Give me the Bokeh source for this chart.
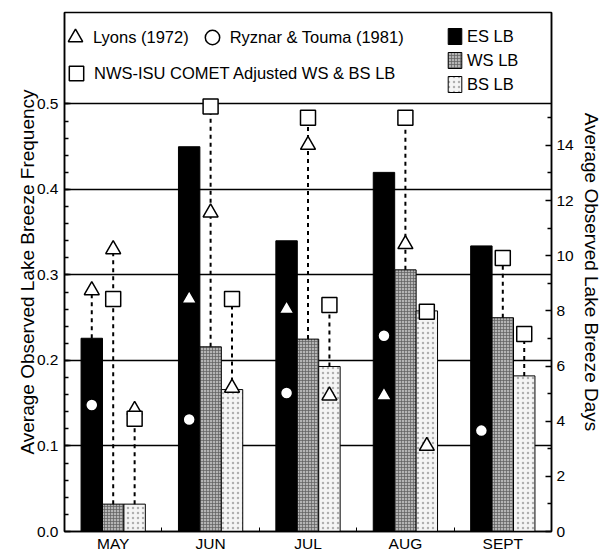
import numpy as np
from bokeh.plotting import figure
from bokeh.models import (Range1d, LinearAxis, FixedTicker, ColumnDataSource,
                          Legend, LegendItem, PrintfTickFormatter)
from bokeh.embed import file_html
from bokeh.resources import INLINE

# ---------------- data ----------------
months = ["MAY", "JUN", "JUL", "AUG", "SEPT"]
es_lb = [0.226, 0.450, 0.340, 0.420, 0.334]
ws_lb = [0.032, 0.216, 0.225, 0.306, 0.250]
bs_lb = [0.032, 0.166, 0.193, 0.258, 0.182]
lyons_es = [0.282, 0.272, 0.260, 0.159, None]
lyons_ws = [0.330, 0.373, 0.452, 0.336, None]
lyons_bs = [0.142, 0.168, 0.159, 0.100, None]
ryznar_es = [0.148, 0.131, 0.162, 0.229, 0.118]
comet_ws = [0.272, 0.497, 0.484, 0.484, 0.320]
comet_bs = [0.132, 0.272, 0.265, 0.257, 0.231]
freq_ticks = [0.0, 0.1, 0.2, 0.3, 0.4, 0.5]
day_ticks = [0, 2, 4, 6, 8, 10, 12, 14]
days_per_month = 31

FREQ_TOP = 0.607
BAR_W = 0.22
FONT = "Liberation Sans"

centers = np.arange(len(months)) + 0.5
es_x = centers - BAR_W
ws_x = centers
bs_x = centers + BAR_W

p = figure(width=604, height=554, x_range=Range1d(0, len(months)),
           y_range=Range1d(0, FREQ_TOP), output_backend="svg",
           toolbar_location=None, title=None,
           min_border_left=64, min_border_right=47, min_border_top=12,
           min_border_bottom=23)
p.background_fill_color = "white"
p.border_fill_color = "white"
p.outline_line_color = "black"
p.outline_line_width = 1.5

# ---- x axis ----
xa = p.xaxis[0]
xa.ticker = FixedTicker(ticks=list(centers), minor_ticks=[1, 2, 3, 4])
xa.major_label_overrides = {float(c): m for c, m in zip(centers, months)}
xa.major_tick_in = 0
xa.major_tick_out = 0
xa.minor_tick_in = 4
xa.minor_tick_out = 0
xa.major_label_standoff = 3
xa.major_label_text_font = FONT
xa.major_label_text_font_size = "15.5px"
xa.major_label_text_color = "black"
xa.axis_line_width = 1.5
xa.axis_line_color = "black"
xa.minor_tick_line_color = "black"

# ---- left axis ----
ya = p.yaxis[0]
ya.ticker = FixedTicker(ticks=freq_ticks,
                        minor_ticks=[round(0.02 * i, 2) for i in range(1, 26)])
ya.formatter = PrintfTickFormatter(format="%.1f")
ya.axis_label = "Average Observed Lake Breeze Frequency"
ya.axis_label_text_font = FONT
ya.axis_label_text_font_style = "normal"
ya.axis_label_text_font_size = "19px"
ya.axis_label_text_color = "black"
ya.axis_label_standoff = -4
ya.major_label_text_font = FONT
ya.major_label_text_font_size = "15.5px"
ya.major_label_text_color = "black"
ya.major_label_standoff = 6
ya.major_tick_in = 6
ya.major_tick_out = 0
ya.minor_tick_in = 4
ya.minor_tick_out = 0
ya.axis_line_width = 1.5
ya.major_tick_line_width = 1.5
ya.minor_tick_line_width = 1.5

# ---- right axis (days) ----
p.extra_y_ranges = {"days": Range1d(0, FREQ_TOP * days_per_month)}
ra = LinearAxis(y_range_name="days",
                ticker=FixedTicker(ticks=day_ticks, minor_ticks=list(range(1, 16, 2))),
                axis_label="Average Observed Lake Breeze Days")
ra.axis_label_text_font = FONT
ra.axis_label_text_font_style = "normal"
ra.axis_label_text_font_size = "19px"
ra.axis_label_text_color = "black"
ra.axis_label_standoff = 4
ra.major_label_text_font = FONT
ra.major_label_text_font_size = "15.5px"
ra.major_label_text_color = "black"
ra.major_label_standoff = 5
ra.major_tick_in = 6
ra.major_tick_out = 0
ra.minor_tick_in = 4
ra.minor_tick_out = 0
ra.axis_line_width = 1.5
ra.major_tick_line_width = 1.5
ra.minor_tick_line_width = 1.5
p.add_layout(ra, "right")

# ---- grid ----
p.xgrid.visible = False
p.ygrid.ticker = FixedTicker(ticks=freq_ticks[1:])
p.ygrid.grid_line_color = "black"
p.ygrid.grid_line_width = 1.4

# ---- bars ----
es_r = p.vbar(x=es_x, top=es_lb, width=BAR_W, fill_color="black",
              line_color="black", line_width=1)
ws_r = p.vbar(x=ws_x, top=ws_lb, width=BAR_W, fill_color="#b4b4b4",
              line_color="black", line_width=1,
              hatch_pattern="cross", hatch_scale=3, hatch_weight=0.7,
              hatch_color="#5e5e5e")
bs_r = p.vbar(x=bs_x, top=bs_lb, width=BAR_W, fill_color="#f5f5f5",
              line_color="black", line_width=1,
              hatch_pattern="dot", hatch_scale=5, hatch_weight=0.5,
              hatch_color="#b0b0b0")

# ---- dashed connectors from bar top to highest marker ----
def _f(v):
    return np.nan if v is None else v

seg_x, seg_y0, seg_y1 = [], [], []
for xs, bars, groups in [(es_x, es_lb, [lyons_es, ryznar_es]),
                         (ws_x, ws_lb, [lyons_ws, comet_ws]),
                         (bs_x, bs_lb, [lyons_bs, comet_bs])]:
    for i in range(len(months)):
        vals = [_f(g[i]) for g in groups]
        top = np.nanmax(vals)
        if top > bars[i] + 0.005:
            seg_x.append(xs[i]); seg_y0.append(bars[i]); seg_y1.append(top)
p.segment(x0=seg_x, y0=seg_y0, x1=seg_x, y1=seg_y1, line_color="black",
          line_width=2, line_dash="4 4")

# ---- markers ----
def _pts(xs, ys):
    px, py = [], []
    for x, y in zip(xs, ys):
        if y is not None:
            px.append(x); py.append(y)
    return px, py

tx, ty = [], []
for xs, ys in [(es_x, lyons_es), (ws_x, lyons_ws), (bs_x, lyons_bs)]:
    a, b = _pts(xs, ys); tx += a; ty += b
sqx, sqy = [], []
for xs, ys in [(ws_x, comet_ws), (bs_x, comet_bs)]:
    a, b = _pts(xs, ys); sqx += a; sqy += b

tri = p.scatter(x=tx, y=ty, marker="triangle", size=15, fill_color="white",
                line_color="black", line_width=1.5)
circ = p.scatter(x=list(es_x), y=ryznar_es, marker="circle", size=12,
                 fill_color="white", line_color="black", line_width=1.5)
sq = p.scatter(x=sqx, y=sqy, marker="square", size=15, fill_color="white",
               line_color="black", line_width=1.5)

# ---- legends ----
def _legend(items, loc, **kw):
    lg = Legend(items=items, location=loc, padding=0, margin=0,
                border_line_color=None, background_fill_alpha=0,
                label_text_font=FONT, label_text_font_size="16.5px",
                label_text_color="black", **kw)
    p.add_layout(lg)
    return lg

_legend([LegendItem(label="Lyons (1972)", renderers=[tri]),
         LegendItem(label="Ryznar & Touma (1981)", renderers=[circ])],
        (-7, 476), orientation="horizontal", glyph_width=36, glyph_height=36,
        label_standoff=0, spacing=5)
_legend([LegendItem(label="NWS-ISU COMET Adjusted WS & BS LB", renderers=[sq])],
        (-6, 440), glyph_width=36, glyph_height=36, label_standoff=0)
_legend([LegendItem(label="ES LB", renderers=[es_r]),
         LegendItem(label="WS LB", renderers=[ws_r]),
         LegendItem(label="BS LB", renderers=[bs_r])],
        (382, 437), glyph_width=17, glyph_height=20, spacing=4,
        label_standoff=4)

open("out.html", "w").write(file_html(p, INLINE))
